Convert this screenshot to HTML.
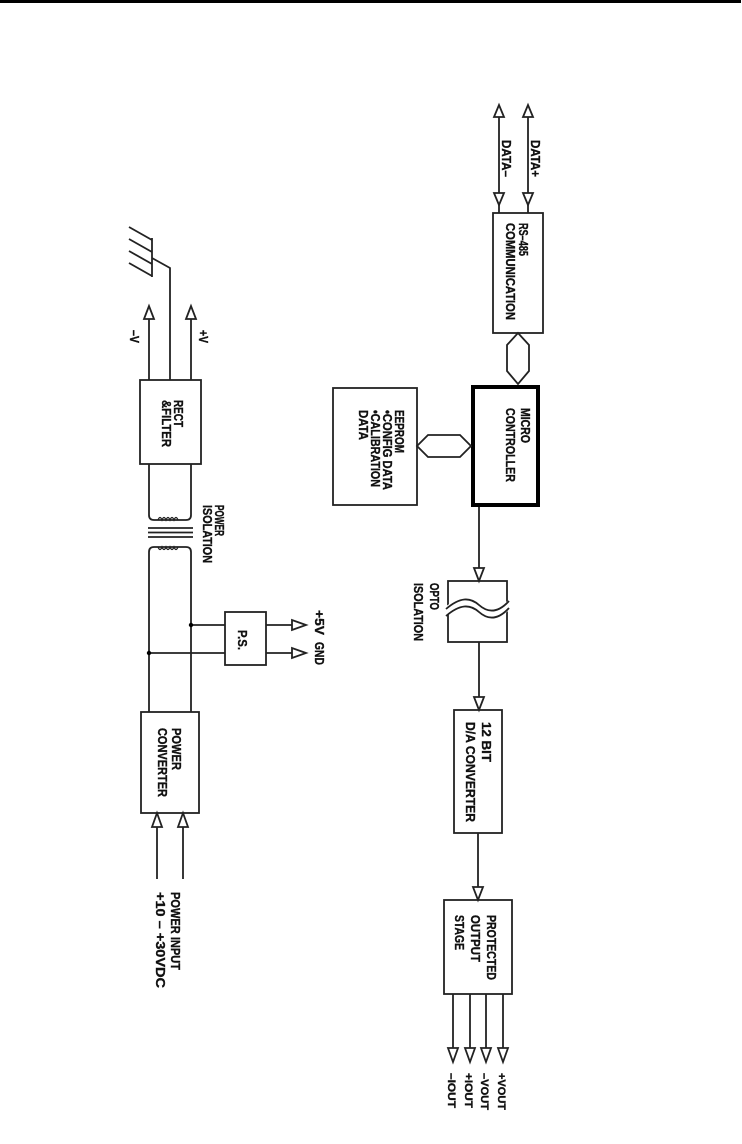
<!DOCTYPE html>
<html><head><meta charset="utf-8"><style>
html,body{margin:0;padding:0;background:#fff;}
svg{display:block;}
text{font-family:"Liberation Sans",sans-serif;font-weight:bold;font-size:12.5px;fill:#111;stroke:#111;stroke-width:0.35;}
</style></head><body>
<svg width="742" height="1144" viewBox="0 0 742 1144" xmlns="http://www.w3.org/2000/svg">
<rect x="0" y="0" width="741" height="3" fill="#000"/>
<g fill="none" stroke="#222" stroke-width="1.8">
<line x1="499" y1="110" x2="499" y2="200"/>
<line x1="528" y1="110" x2="528" y2="200"/>
<polygon points="499,105 494,117 504,117" fill="#fff"/>
<polygon points="528,105 523,117 533,117" fill="#fff"/>
<polygon points="499,205 494,193 504,193" fill="#fff"/>
<polygon points="528,205 523,193 533,193" fill="#fff"/>
<line x1="499" y1="205" x2="499" y2="213"/>
<line x1="528" y1="205" x2="528" y2="213"/>
<rect x="493" y="213" width="50" height="120"/>
<polygon points="518,333 529,345 529,371 518,384 507,371 507,345"/>
<rect x="473" y="387" width="65" height="118" stroke="#000" stroke-width="4"/>
<rect x="333" y="388" width="84" height="117"/>
<polygon points="417,446 428,435 460,435 471,446 460,457 428,457"/>
<line x1="479" y1="507" x2="479" y2="581"/>
<polygon points="479,581 474,568 484,568" fill="#fff"/>
<rect x="448" y="581" width="59" height="61"/>
<path d="M445,612 C460,600 470,600 479,608 C488,616 498,616 510,604" stroke="#fff" stroke-width="8"/>
<path d="M446,609 C460,597 470,597 479,605 C488,613 498,613 509,601"/>
<path d="M446,616 C460,604 470,604 479,612 C488,620 498,620 509,608"/>
<line x1="479" y1="642" x2="479" y2="710"/>
<polygon points="479,710 474,697 484,697" fill="#fff"/>
<rect x="454" y="710" width="48" height="123"/>
<line x1="478" y1="833" x2="478" y2="900"/>
<polygon points="478,900 473,887 483,887" fill="#fff"/>
<rect x="444" y="900" width="68" height="94"/>
<line x1="453" y1="994" x2="453" y2="1048"/>
<line x1="470" y1="994" x2="470" y2="1048"/>
<line x1="486" y1="994" x2="486" y2="1048"/>
<line x1="503" y1="994" x2="503" y2="1048"/>
<polygon points="453,1062 448,1048 458,1048" fill="#fff"/>
<polygon points="470,1062 465,1048 475,1048" fill="#fff"/>
<polygon points="486,1062 481,1048 491,1048" fill="#fff"/>
<polygon points="503,1062 498,1048 508,1048" fill="#fff"/>
<line x1="152" y1="238" x2="152" y2="277"/>
<line x1="129" y1="227" x2="152" y2="240"/>
<line x1="129" y1="239" x2="152" y2="252"/>
<line x1="129" y1="251" x2="152" y2="264"/>
<line x1="129" y1="263" x2="152" y2="276"/>
<polyline points="152,258 170,268 170,380"/>
<line x1="149" y1="318" x2="149" y2="380"/>
<line x1="191" y1="318" x2="191" y2="380"/>
<polygon points="149,306 144,319 154,319" fill="#fff"/>
<polygon points="191,306 186,319 196,319" fill="#fff"/>
<rect x="140" y="380" width="61" height="84"/>
<path d="M149,464 L149,515 Q149,520 154,520 L186,520 Q191,520 191,515 L191,464"/>
<path d="M158,520 q2,-5 4,0 q2,-5 4,0 q2,-5 4,0 q2,-5 4,0 q2,-5 4,0" stroke-width="1.3"/>
<line x1="148" y1="528" x2="193" y2="528"/>
<line x1="148" y1="532.5" x2="193" y2="532.5"/>
<line x1="148" y1="537" x2="193" y2="537"/>
<path d="M149,712 L149,552 Q149,547 154,547 L186,547 Q191,547 191,552 L191,712"/>
<path d="M158,547 q2,5 4,0 q2,5 4,0 q2,5 4,0 q2,5 4,0 q2,5 4,0" stroke-width="1.3"/>
<line x1="191" y1="625" x2="225" y2="625"/>
<line x1="149" y1="653" x2="225" y2="653"/>
<rect x="225" y="612" width="41" height="53"/>
<line x1="266" y1="625" x2="292" y2="625"/>
<line x1="266" y1="653" x2="292" y2="653"/>
<polygon points="306,625 292,620 292,630" fill="#fff"/>
<polygon points="306,653 292,648 292,658" fill="#fff"/>
<rect x="141" y="712" width="58" height="101"/>
<line x1="157" y1="827" x2="157" y2="879"/>
<line x1="183" y1="827" x2="183" y2="879"/>
<polygon points="157,813 152,827 162,827" fill="#fff"/>
<polygon points="183,813 178,827 188,827" fill="#fff"/>
</g>
<circle cx="191" cy="625" r="2.2" fill="#000"/>
<circle cx="149" cy="653" r="2.2" fill="#000"/>
<g>
<text transform="translate(531,140) rotate(90)" textLength="37" lengthAdjust="spacingAndGlyphs">DATA+</text>
<text transform="translate(502,140) rotate(90)" textLength="37" lengthAdjust="spacingAndGlyphs">DATA–</text>
<text transform="translate(519,223) rotate(90)" textLength="33" lengthAdjust="spacingAndGlyphs">RS–485</text>
<text transform="translate(506,223) rotate(90)" textLength="97" lengthAdjust="spacingAndGlyphs">COMMUNICATION</text>
<text transform="translate(521,408) rotate(90)" textLength="35" lengthAdjust="spacingAndGlyphs">MICRO</text>
<text transform="translate(506,408) rotate(90)" textLength="74" lengthAdjust="spacingAndGlyphs">CONTROLLER</text>
<text transform="translate(395,410) rotate(90)" textLength="43" lengthAdjust="spacingAndGlyphs">EEPROM</text>
<text transform="translate(383,410) rotate(90)" textLength="80" lengthAdjust="spacingAndGlyphs">•CONFIG  DATA</text>
<text transform="translate(371,410) rotate(90)" textLength="77" lengthAdjust="spacingAndGlyphs">•CALIBRATION</text>
<text transform="translate(359,410) rotate(90)" textLength="30" lengthAdjust="spacingAndGlyphs">DATA</text>
<text transform="translate(174,400) rotate(90)" textLength="27" lengthAdjust="spacingAndGlyphs">RECT</text>
<text transform="translate(162,400) rotate(90)" textLength="47" lengthAdjust="spacingAndGlyphs">&amp;FILTER</text>
<text transform="translate(130,330) rotate(90)" textLength="13" lengthAdjust="spacingAndGlyphs">–V</text>
<text transform="translate(199,330) rotate(90)" textLength="13" lengthAdjust="spacingAndGlyphs">+V</text>
<text transform="translate(215,505) rotate(90)" textLength="31" lengthAdjust="spacingAndGlyphs">POWER</text>
<text transform="translate(203,505) rotate(90)" textLength="58" lengthAdjust="spacingAndGlyphs">ISOLATION</text>
<text transform="translate(238,630) rotate(90)" textLength="20" lengthAdjust="spacingAndGlyphs">P.S.</text>
<text transform="translate(315,610) rotate(90)" textLength="25" lengthAdjust="spacingAndGlyphs">+5V</text>
<text transform="translate(315,642) rotate(90)" textLength="23" lengthAdjust="spacingAndGlyphs">GND</text>
<text transform="translate(430,583) rotate(90)" textLength="27" lengthAdjust="spacingAndGlyphs">OPTO</text>
<text transform="translate(414,583) rotate(90)" textLength="58" lengthAdjust="spacingAndGlyphs">ISOLATION</text>
<text transform="translate(482,722) rotate(90)" textLength="40" lengthAdjust="spacingAndGlyphs">12  BIT</text>
<text transform="translate(466,722) rotate(90)" textLength="100" lengthAdjust="spacingAndGlyphs">D/A  CONVERTER</text>
<text transform="translate(172,728) rotate(90)" textLength="42" lengthAdjust="spacingAndGlyphs">POWER</text>
<text transform="translate(158,728) rotate(90)" textLength="69" lengthAdjust="spacingAndGlyphs">CONVERTER</text>
<text transform="translate(487,915) rotate(90)" textLength="65" lengthAdjust="spacingAndGlyphs">PROTECTED</text>
<text transform="translate(471,915) rotate(90)" textLength="47" lengthAdjust="spacingAndGlyphs">OUTPUT</text>
<text transform="translate(455,915) rotate(90)" textLength="35" lengthAdjust="spacingAndGlyphs">STAGE</text>
<text transform="translate(171,892) rotate(90)" textLength="78" lengthAdjust="spacingAndGlyphs">POWER  INPUT</text>
<text transform="translate(156,892) rotate(90)" textLength="96" lengthAdjust="spacingAndGlyphs">+10  –  +30VDC</text>
<text transform="translate(498,1073) rotate(90)" textLength="37" lengthAdjust="spacingAndGlyphs" style="font-size:11px">+VOUT</text>
<text transform="translate(481,1073) rotate(90)" textLength="37" lengthAdjust="spacingAndGlyphs" style="font-size:11px">–VOUT</text>
<text transform="translate(465,1073) rotate(90)" textLength="35" lengthAdjust="spacingAndGlyphs" style="font-size:11px">+IOUT</text>
<text transform="translate(448,1073) rotate(90)" textLength="35" lengthAdjust="spacingAndGlyphs" style="font-size:11px">–IOUT</text>
</g>
</svg>
</body></html>
